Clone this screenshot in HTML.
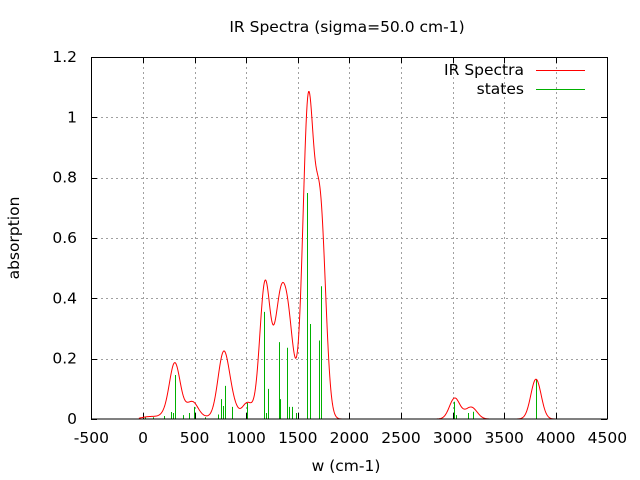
<!DOCTYPE html>
<html><head><meta charset="utf-8"><style>
html,body{margin:0;padding:0;background:#fff;}
svg{display:block;font-family:"DejaVu Sans","Liberation Sans",sans-serif;}
</style></head><body>
<svg id="s" width="640" height="480" viewBox="0 0 640 480" xmlns="http://www.w3.org/2000/svg">
<rect width="640" height="480" fill="#fff"/>
<g id="grid" stroke="#a0a0a0" stroke-width="1" stroke-dasharray="2,3"></g>
<g id="ticks" stroke="#000" stroke-width="1"></g>
<g id="labels" font-size="15.5" fill="#000"></g>
<g id="sticks" stroke="#00b000" stroke-width="1"></g>
<path id="curve" fill="none" stroke="#ff0000" stroke-width="1"/>
<rect x="91.5" y="57.5" width="516" height="361.5" fill="none" stroke="#000" stroke-width="1"/>
<text x="347" y="32" font-size="15.5" text-anchor="middle">IR Spectra (sigma=50.0 cm-1)</text>
<text x="346" y="471" font-size="15.5" text-anchor="middle">w (cm-1)</text>
<text transform="translate(19,238) rotate(-90)" font-size="15.5" text-anchor="middle">absorption</text>
<text x="524" y="75" font-size="15.5" text-anchor="end">IR Spectra</text>
<line x1="536" y1="70.5" x2="585" y2="70.5" stroke="#ff0000"/>
<text x="524" y="94" font-size="15.5" text-anchor="end">states</text>
<line x1="536" y1="89.5" x2="585" y2="89.5" stroke="#00b000"/>
</svg>
<script>
var NS="http://www.w3.org/2000/svg";
function X(v){return 143+v*0.1032;}
function Y(v){return 419-v*301.7;}
function el(p,n,a,t){var e=document.createElementNS(NS,n);for(var k in a)e.setAttribute(k,a[k]);if(t!==undefined)e.textContent=t;document.getElementById(p).appendChild(e);}
for(var v=-500;v<=4500;v+=500){var x=Math.round(X(v))+0.5;
 if(v>-500&&v<4500)el("grid","line",{x1:x,y1:57,x2:x,y2:419});
 el("ticks","line",{x1:x,y1:419,x2:x,y2:413});el("ticks","line",{x1:x,y1:57,x2:x,y2:63});
 el("labels","text",{x:X(v),y:443,"text-anchor":"middle"},String(v));}
for(var i=0;i<=6;i++){var yv=i*0.2;var y=Math.round(Y(yv))+0.5;
 if(i>0&&i<6)el("grid","line",{x1:91,y1:y,x2:607,y2:y});
 el("ticks","line",{x1:91,y1:y,x2:97,y2:y});el("ticks","line",{x1:607,y1:y,x2:601,y2:y});
 var lab=i==0?"0":yv.toFixed(1);if(i==5)lab="1";
 el("labels","text",{x:77,y:Y(yv)+5,"text-anchor":"end"},lab);}
var S=[[20,0.005],[100,0.006],[200,0.01],[271,0.023],[294,0.02],[313,0.146],[388,0.013],[449,0.02],[494,0.04],[600,0.006],[730,0.015],[759,0.066],[778,0.043],[798,0.11],[866,0.04],[1011,0.053],[1176,0.355],[1195,0.02],[1214,0.1],[1321,0.255],[1330,0.066],[1398,0.236],[1418,0.04],[1447,0.04],[1480,0.02],[1592,0.749],[1621,0.315],[1702,0.26],[1728,0.44],[3017,0.057],[3037,0.013],[3153,0.02],[3201,0.024],[3808,0.132]];
S.forEach(function(s){var x=Math.round(X(s[0]))+0.5;el("sticks","line",{x1:x,y1:419,x2:x,y2:Y(s[1])});});
var d="";for(var w=-40;w<=4450;w+=5){var a=0;S.forEach(function(s){var q=w-s[0];a+=s[1]*Math.exp(-q*q/5000);});
 d+=(d?"L":"M")+X(w).toFixed(2)+","+Y(a).toFixed(2);}
document.getElementById("curve").setAttribute("d",d);
</script>
</body></html>
